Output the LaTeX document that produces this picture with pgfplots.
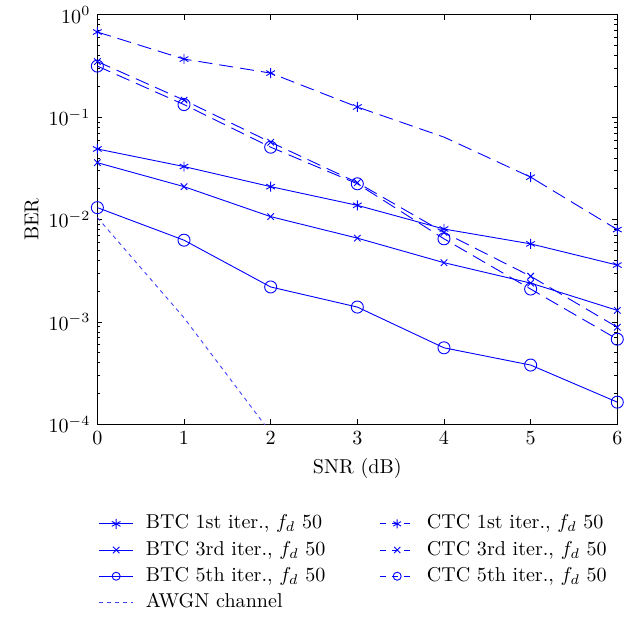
\documentclass[border=0pt]{standalone}
\usepackage{pgfplots}
\pgfplotsset{compat=1.18}

\begin{document}
\begin{tikzpicture}
\begin{axis}[
  scale only axis,
  width=259pt, height=204pt,
  ymode=log,
  xmin=0, xmax=6,
  ymin=1e-4, ymax=1,
  xtick={0,...,6},
  ytick={1e-4,1e-3,1e-2,1e-1,1},
  xlabel={SNR (dB)},
  ylabel={BER},
  tick align=inside,
  major tick length=2.5pt,
  minor tick length=1.5pt,
  tick style={black, line width=0.4pt},
  axis line style={line width=0.5pt},
  every axis plot/.append style={line width=0.45pt},
  legend style={at={(-0.01,-0.20)}, anchor=north west, draw=none, fill=none,
    legend columns=2, row sep=0pt,
    nodes={inner sep=2pt, text depth=0.2em},
    /tikz/column 1/.style={column sep=4pt},
    /tikz/column 2/.style={column sep=25pt},
    /tikz/column 3/.style={column sep=4pt},
    font=\normalsize},
  legend cell align=left,
  legend image code/.code={%
    \draw[mark repeat=2,mark phase=2,#1] plot coordinates {(0cm,0cm) (0.3cm,0cm) (0.6cm,0cm)};},
  ylabel style={yshift=-2pt},
]
% BTC 1st
\addplot[blue, mark=asterisk, mark size=2.5pt] coordinates {
(0,0.049) (1,0.033) (2,0.021) (3,0.0138) (4,0.0081) (5,0.0058) (6,0.0036)};
\addlegendentry{BTC 1st iter., $f_d$ 50}
% CTC 1st (no marker at 4 dB)
\addplot[blue, dash pattern=on 7pt off 3.5pt, forget plot] coordinates {
(0,0.68) (1,0.37) (2,0.27) (3,0.126) (4,0.064) (5,0.026) (6,0.008)};
\addplot[blue, only marks, mark=asterisk, mark size=2.5pt, forget plot] coordinates {
(0,0.68) (1,0.37) (2,0.27) (3,0.126) (5,0.026) (6,0.008)};
\addlegendimage{blue, line width=0.45pt, dash pattern=on 3pt off 3pt, mark=asterisk, mark size=2.2pt, mark options={solid}}
\addlegendentry{CTC 1st iter., $f_d$ 50}
% BTC 3rd
\addplot[blue, mark=x, mark size=2.3pt] coordinates {
(0,0.036) (1,0.021) (2,0.0107) (3,0.0066) (4,0.0038) (5,0.0024) (6,0.0013)};
\addlegendentry{BTC 3rd iter., $f_d$ 50}
% CTC 3rd
\addplot[blue, dash pattern=on 7pt off 3.5pt, mark=x, mark size=2.3pt, mark options={solid}, forget plot] coordinates {
(0,0.35) (1,0.147) (2,0.057) (3,0.023) (4,0.0075) (5,0.0028) (6,0.00089)};
\addlegendimage{blue, line width=0.45pt, dash pattern=on 3pt off 3pt, mark=x, mark size=2.2pt, mark options={solid}}
\addlegendentry{CTC 3rd iter., $f_d$ 50}
% BTC 5th
\addplot[blue, mark=o, mark size=3pt, forget plot] coordinates {
(0,0.0131) (1,0.0063) (2,0.0022) (3,0.0014) (4,0.00056) (5,0.00038) (6,0.000165)};
\addlegendimage{blue, line width=0.45pt, mark=o, mark size=2pt}
\addlegendentry{BTC 5th iter., $f_d$ 50}
% CTC 5th
\addplot[blue, dash pattern=on 7pt off 3.5pt, mark=o, mark size=3pt, mark options={solid}, forget plot] coordinates {
(0,0.316) (1,0.133) (2,0.051) (3,0.0224) (4,0.0065) (5,0.0021) (6,0.00068)};
\addlegendimage{blue, line width=0.45pt, dash pattern=on 3pt off 3pt, mark=o, mark size=2pt, mark options={solid}}
\addlegendentry{CTC 5th iter., $f_d$ 50}
% AWGN
\addplot[blue!75!white, dash pattern=on 2pt off 2pt] coordinates {
(0,0.0105) (1,0.0011) (2,0.000083)};
\addlegendimage{blue!75!white, line width=0.45pt, dash pattern=on 3pt off 3pt}
\addlegendentry{AWGN channel}
\end{axis}
% white margin on the left, as in the reference
\path (current axis.south west) ++(-48.5pt,0pt);
\end{tikzpicture}
\end{document}
